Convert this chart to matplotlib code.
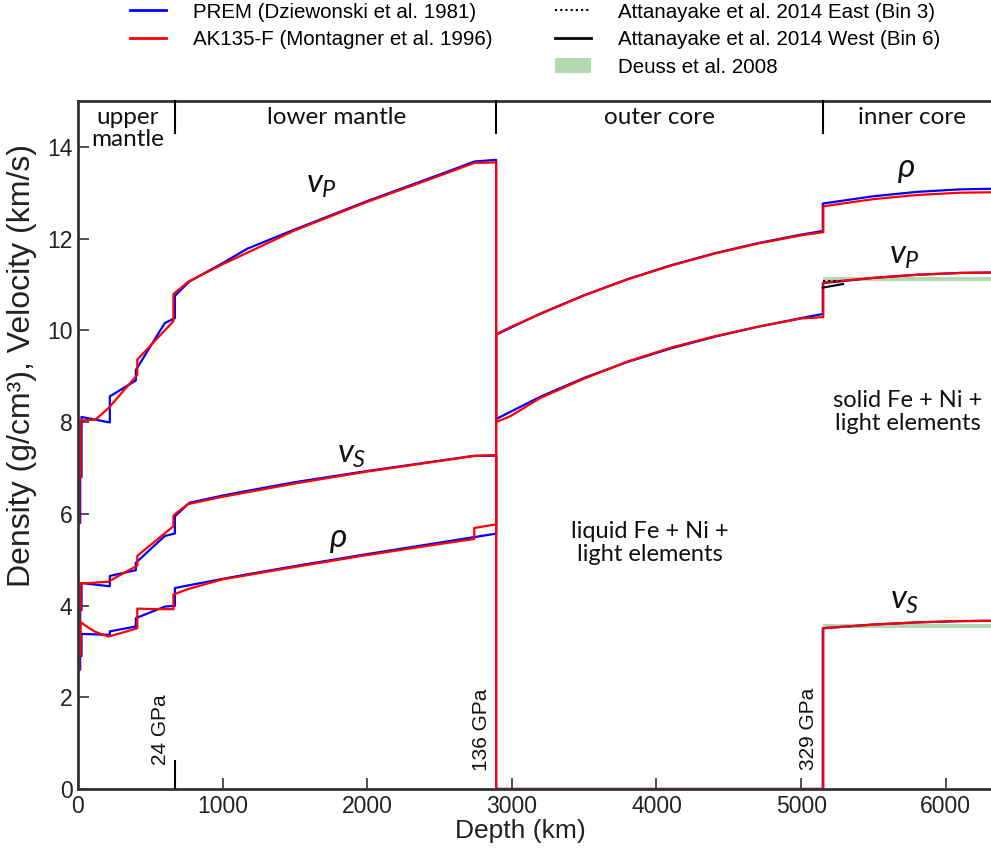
import matplotlib
matplotlib.use("Agg")
import matplotlib.pyplot as plt
from matplotlib.lines import Line2D
from matplotlib.patches import Patch

plt.rcParams["font.family"] = ["Liberation Sans", "DejaVu Sans"]
plt.rcParams["mathtext.fontset"] = "custom"
plt.rcParams["mathtext.it"] = "Lato:italic"
plt.rcParams["mathtext.rm"] = "Lato"

# ── PREM (Dziewonski & Anderson 1981), isotropic, ocean layer dropped ─────────
prem_depth = [0, 15, 15, 24.4, 24.4, 80, 220, 220, 400, 400, 600, 670, 670,
              771, 1000, 1171, 1500, 2000, 2500, 2741, 2891,
              2891, 3200, 3500, 3800, 4100, 4400, 4700, 5000, 5150,
              5150, 5500, 5800, 6100, 6371]
prem_rho = [2.60, 2.60, 2.90, 2.90, 3.381, 3.375, 3.359, 3.436, 3.543, 3.724, 3.976, 3.992, 4.381,
            4.443, 4.580, 4.680, 4.860, 5.121, 5.371, 5.492, 5.566,
            9.904, 10.369, 10.766, 11.115, 11.418, 11.678, 11.900, 12.086, 12.166,
            12.764, 12.923, 13.018, 13.073, 13.089]
prem_vp = [5.80, 5.80, 6.80, 6.80, 8.111, 8.077, 7.990, 8.559, 8.905, 9.134, 10.157, 10.266, 10.751,
           11.066, 11.464, 11.780, 12.200, 12.818, 13.395, 13.680, 13.717,
           8.065, 8.556, 8.963, 9.310, 9.605, 9.858, 10.076, 10.267, 10.356,
           11.028, 11.143, 11.211, 11.251, 11.262]
prem_vs = [3.20, 3.20, 3.90, 3.90, 4.491, 4.470, 4.419, 4.644, 4.770, 4.932, 5.516, 5.570, 5.945,
           6.240, 6.397, 6.500, 6.689, 6.933, 7.157, 7.265, 7.265,
           0, 0, 0, 0, 0, 0, 0, 0, 0,
           3.504, 3.585, 3.632, 3.660, 3.668]

# ── AK135-F (Montagner & Kennett 1996), ocean/sediment layers dropped ────────
ak_depth = [3.3, 10, 10, 18, 18, 43, 80, 120, 165, 210, 260, 310, 360, 410, 410,
            460, 510, 560, 610, 660, 660, 710, 760,
            1000, 1500, 2000, 2500, 2740, 2740, 2891.5,
            2891.5, 2990, 3200, 3500, 3800, 4100, 4400, 4700, 5000, 5153.5,
            5153.5, 5500, 5800, 6100, 6371]
ak_rho = [2.60, 2.60, 2.92, 2.92, 3.641, 3.580, 3.502, 3.427, 3.371, 3.324, 3.366, 3.411, 3.458, 3.507, 3.932,
          3.927, 3.923, 3.922, 3.921, 3.920, 4.239, 4.299, 4.357,
          4.570, 4.840, 5.100, 5.340, 5.450, 5.690, 5.770,
          9.915, 10.070, 10.360, 10.760, 11.110, 11.410, 11.670, 11.890, 12.070, 12.139,
          12.704, 12.860, 12.950, 13.000, 13.012]
ak_vp = [5.80, 5.80, 6.80, 6.80, 8.036, 8.038, 8.045, 8.051, 8.175, 8.301, 8.482, 8.665, 8.848, 9.030, 9.360,
         9.528, 9.696, 9.864, 10.032, 10.200, 10.791, 10.922, 11.055,
         11.440, 12.180, 12.800, 13.370, 13.650, 13.650, 13.660,
         8.000, 8.128, 8.530, 8.946, 9.320, 9.623, 9.868, 10.077, 10.257, 10.289,
         11.043, 11.143, 11.211, 11.251, 11.262]
ak_vs = [3.20, 3.20, 3.90, 3.90, 4.484, 4.486, 4.490, 4.500, 4.509, 4.518, 4.609, 4.696, 4.783, 4.870, 5.081,
         5.212, 5.341, 5.471, 5.600, 5.729, 5.961, 6.090, 6.210,
         6.370, 6.660, 6.920, 7.150, 7.260, 7.260, 7.280,
         0, 0, 0, 0, 0, 0, 0, 0, 0, 0,
         3.504, 3.585, 3.632, 3.660, 3.668]

# ── inner-core top: Attanayake et al. 2014 (vp), Deuss et al. 2008 (ranges) ──
att_depth = [5150, 5290]
att_east_vp = [11.08, 11.08]
att_west_vp = [10.93, 11.01]
deuss_depth = [5150, 6371]
deuss_vp_lo, deuss_vp_hi = 11.08, 11.17
deuss_vs_lo, deuss_vs_hi = 3.51, 3.60

# boundaries: 670 km, CMB, ICB
boundaries = [670, 2891, 5150]
pressures = ["24 GPa", "136 GPa", "329 GPa"]

BLUE = "#0000ff"
RED = "#ff0000"
GREEN = "#b3d9b3"
LW = 1.6

fig = plt.figure(figsize=(9.91, 8.5), dpi=100)
ax = fig.add_axes([0.0787, 0.0718, 0.9213, 0.8094])

ax.fill_between(deuss_depth, deuss_vp_lo, deuss_vp_hi, color=GREEN, lw=0, zorder=1)
ax.fill_between(deuss_depth, deuss_vs_lo, deuss_vs_hi, color=GREEN, lw=0, zorder=1)

# keep curves under the spines so vs = 0 in the outer core hides behind the axis
for y in (prem_rho, prem_vp, prem_vs):
    ax.plot(prem_depth, y, color=BLUE, lw=LW, zorder=2.1)
for y in (ak_rho, ak_vp, ak_vs):
    ax.plot(ak_depth, y, color=RED, lw=LW, zorder=2.2)

ax.plot(att_depth, att_east_vp, color="black", lw=1.5, ls=(0, (1, 1.5)), zorder=2.3)
ax.plot(att_depth, att_west_vp, color="black", lw=1.5, zorder=2.3)

ax.set_xlim(0, 6313)
ax.set_ylim(0, 15)
ax.set_xticks([0, 1000, 2000, 3000, 4000, 5000, 6000])
ax.set_yticks(range(0, 15, 2))
ax.tick_params(direction="in", length=8, width=1.2, labelsize=16.5, color="#333333",
               labelcolor="#222222", pad=4)
for side in ("left", "bottom", "top"):
    ax.spines[side].set_linewidth(2)
    ax.spines[side].set_color("#333333")
ax.spines["right"].set_visible(False)

ax.set_xlabel("Depth (km)", fontsize=19, color="#222222")
ax.xaxis.set_label_coords(0.485, -0.044)
ax.set_ylabel("Density (g/cm³), Velocity (km/s)", fontsize=23, color="#222222")
ax.yaxis.set_label_coords(-0.045, 0.615)

# region dividers and names along the top
for b in boundaries:
    ax.plot([b, b], [14.3, 15], color="black", lw=1.5, clip_on=False, zorder=5)
ax.plot([670, 670], [0, 0.62], color="black", lw=1.5, zorder=5)

region_kw = dict(fontsize=17.5, family="Lato", ha="center", va="center", color="#111111")
ax.text(345, 14.4, "upper\nmantle", linespacing=1.05, **region_kw)
ax.text(1790, 14.63, "lower mantle", **region_kw)
ax.text(4022, 14.63, "outer core", **region_kw)
ax.text(5764, 14.63, "inner core", **region_kw)

for b, p in zip(boundaries, pressures):
    ax.text(b - 100, 1.3, p, rotation=90, fontsize=15, ha="center", va="center",
            color="#111111")

# curve labels
lab_kw = dict(fontsize=24, ha="center", va="center", color="#111111")
ax.text(1686, 13.17, r"$v_P$", **lab_kw)
ax.text(1894, 7.3, r"$v_S$", **lab_kw)
ax.text(1797, 5.43, r"$\rho$", **lab_kw)
ax.text(5722, 13.5, r"$\rho$", **lab_kw)
ax.text(5715, 11.64, r"$v_P$", **lab_kw)
ax.text(5715, 4.1, r"$v_S$", **lab_kw)

comp_kw = dict(fontsize=17, family="Lato", ha="center", va="center", linespacing=1.15,
               color="#111111")
ax.text(3953, 5.36, "liquid Fe + Ni +\nlight elements", **comp_kw)
ax.text(5736, 8.22, "solid Fe + Ni +\nlight elements", **comp_kw)

# legend, two blocks above the axes
leg_kw = dict(loc="upper left", frameon=False, fontsize=14.8, handlelength=1.75,
              handletextpad=1.3, labelspacing=0.42, borderpad=0, borderaxespad=0)
h1 = [Line2D([], [], color=BLUE, lw=2), Line2D([], [], color=RED, lw=2)]
fig.legend(h1, ["PREM (Dziewonski et al. 1981)", "AK135-F (Montagner et al. 1996)"],
           bbox_to_anchor=(0.131, 0.997), **leg_kw)
h2 = [Line2D([], [], color="black", lw=1.5, ls=(0, (1, 1.5))),
      Line2D([], [], color="black", lw=2),
      Patch(facecolor=GREEN, edgecolor="none")]
fig.legend(h2, ["Attanayake et al. 2014 East (Bin 3)", "Attanayake et al. 2014 West (Bin 6)",
                "Deuss et al. 2008"],
           bbox_to_anchor=(0.560, 0.997), **leg_kw)

fig.savefig("out.png", dpi=100)
